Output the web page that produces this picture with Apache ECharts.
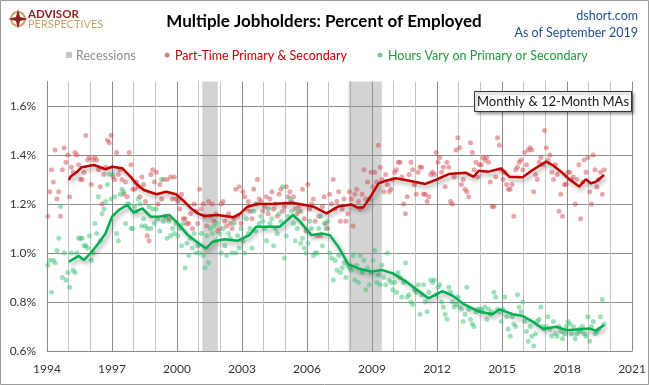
<!DOCTYPE html>
<html><head><meta charset="utf-8">
<script src="https://cdn.jsdelivr.net/npm/echarts@6.0.0/dist/echarts.min.js"></script>
<style>html,body{margin:0;padding:0;background:#fff}#c{width:649px;height:385px}</style>
</head><body><div id="c"></div>
<script>
// ---- data ----
const startYear = 1994;           // first monthly value = Jan 1994
const xRange = [1994, 2021];
const yRange = [0.6, 1.7];
const recessions = [[2001.17, 2001.88], [2007.92, 2009.45]];

const partTimeMonthly = [
1.15,1.25,1.34,1.29,1.42,1.22,1.25,1.15,1.34,1.43,1.37,1.40,
1.23,1.35,1.33,1.41,1.40,1.36,1.30,1.30,1.33,1.48,1.38,1.39,
1.28,1.38,1.39,1.38,1.34,1.27,1.20,1.32,1.35,1.46,1.45,1.48,
1.31,1.30,1.41,1.32,1.34,1.30,1.24,1.29,1.23,1.41,1.36,1.26,
1.26,1.29,1.27,1.23,1.31,1.28,1.21,1.07,1.05,1.32,1.34,1.29,
1.33,1.20,1.28,1.22,1.30,1.15,1.30,1.14,1.31,1.22,1.31,1.22,
1.21,1.18,1.24,1.14,1.14,1.12,1.12,1.16,1.10,1.20,1.17,1.12,
1.26,1.18,1.20,1.15,1.11,1.21,1.15,1.20,1.13,1.16,1.09,1.10,
1.20,1.21,1.13,1.11,1.16,1.12,1.10,1.14,1.26,1.15,1.27,1.12,
1.25,1.23,1.18,1.21,1.17,1.14,1.26,1.20,1.30,1.22,1.21,1.17,
1.19,1.23,1.16,1.22,1.25,1.18,1.20,1.15,1.24,1.26,1.17,1.19,
1.27,1.23,1.25,1.21,1.23,1.18,1.16,1.19,1.17,1.26,1.14,1.09,
1.28,1.18,1.20,1.22,1.13,1.07,1.15,1.07,1.19,1.23,1.12,1.10,
1.24,1.20,1.30,1.18,1.21,1.25,1.13,1.18,1.22,1.13,1.16,1.25,
1.22,1.11,1.24,1.26,1.21,1.18,1.24,1.34,1.22,1.29,1.22,1.33,
1.27,1.33,1.29,1.44,1.35,1.30,1.25,1.32,1.28,1.25,1.26,1.30,
1.33,1.34,1.37,1.37,1.31,1.20,1.16,1.23,1.32,1.37,1.34,1.28,
1.24,1.33,1.35,1.35,1.24,1.24,1.21,1.23,1.32,1.33,1.32,1.41,
1.37,1.39,1.33,1.35,1.27,1.37,1.35,1.21,1.20,1.31,1.42,1.47,
1.43,1.28,1.30,1.26,1.25,1.23,1.45,1.41,1.34,1.37,1.31,1.36,
1.36,1.39,1.38,1.39,1.37,1.29,1.19,1.19,1.31,1.47,1.44,1.34,
1.30,1.33,1.28,1.26,1.26,1.28,1.15,1.34,1.35,1.37,1.38,1.34,
1.41,1.36,1.42,1.43,1.42,1.25,1.32,1.30,1.37,1.39,1.36,1.50,
1.43,1.38,1.40,1.33,1.30,1.36,1.32,1.17,1.24,1.15,1.28,1.28,
1.33,1.33,1.30,1.31,1.20,1.30,1.36,1.14,1.29,1.38,1.33,1.39,
1.25,1.20,1.40,1.34,1.27,1.30,1.33,1.24,1.34
];

const hoursVaryMonthly = [
0.95,0.97,0.84,0.97,0.96,1.01,1.06,1.19,0.90,1.00,0.89,0.92,
0.86,1.00,0.93,0.92,1.00,1.06,1.06,1.06,1.03,1.03,1.02,1.07,
0.97,1.00,1.12,1.08,1.23,1.05,1.16,1.18,1.21,1.28,1.32,1.22,
1.32,1.23,1.08,1.05,1.24,1.26,1.25,1.12,1.20,1.20,1.10,1.10,
1.19,1.17,1.22,1.20,1.11,1.14,1.11,1.10,1.19,1.10,1.18,1.12,
1.18,1.14,1.09,1.30,1.13,1.15,1.06,1.13,1.07,1.10,1.08,1.12,
1.07,1.10,1.03,1.12,0.94,1.04,0.99,1.06,1.02,1.08,1.00,1.03,
1.00,1.08,0.99,0.94,1.07,0.96,1.10,1.08,1.11,1.05,1.12,1.08,
1.00,1.10,1.03,0.99,1.08,1.06,1.00,1.12,1.00,1.07,1.02,1.10,
1.05,1.00,1.14,1.08,1.10,1.02,1.17,1.09,1.20,1.12,1.15,1.13,
1.10,1.05,1.18,1.12,1.14,1.03,1.10,1.08,1.16,1.13,1.27,0.98,
1.07,1.15,1.22,1.17,1.12,1.05,1.10,1.17,1.04,1.06,1.02,1.00,
1.04,1.13,1.10,0.99,1.00,1.00,1.10,1.15,1.03,1.12,1.10,1.13,
1.00,0.98,0.89,0.97,0.93,0.99,0.92,0.94,0.96,0.90,0.95,0.94,
0.93,0.99,0.89,0.95,0.88,0.99,0.92,0.97,0.85,0.94,0.87,0.92,
0.97,1.01,0.88,0.91,0.87,0.95,0.90,0.87,1.00,0.89,0.88,0.85,
0.88,0.84,0.92,0.90,0.82,0.88,0.96,0.82,0.83,0.80,0.79,0.85,
0.84,0.87,0.75,0.83,0.87,0.80,0.76,0.84,0.89,0.88,0.89,0.83,
0.86,0.87,0.80,0.78,0.75,0.73,0.86,0.84,0.80,0.78,0.79,0.82,
0.78,0.77,0.72,0.75,0.86,0.77,0.73,0.71,0.70,0.76,0.77,0.77,
0.77,0.76,0.78,0.73,0.77,0.75,0.76,0.84,0.82,0.77,0.76,0.72,
0.77,0.82,0.74,0.69,0.66,0.74,0.71,0.70,0.83,0.78,0.76,0.80,
0.72,0.68,0.64,0.70,0.66,0.62,0.67,0.72,0.73,0.78,0.70,0.69,
0.70,0.74,0.69,0.66,0.72,0.67,0.66,0.70,0.68,0.65,0.67,0.70,
0.72,0.71,0.67,0.70,0.65,0.67,0.69,0.68,0.70,0.67,0.66,0.74,
0.64,0.70,0.72,0.67,0.68,0.69,0.74,0.81,0.71
];

// 12-month moving averages as [year, value]
const partTimeMA = [
[1995.01,1.298],[1995.09,1.312],[1995.4,1.332],[1995.6,1.35],[1996.17,1.359],[1996.7,1.342],
[1997.0,1.352],[1997.47,1.346],[1997.86,1.311],[1998.1,1.284],[1998.47,1.257],[1999.05,1.24],
[1999.5,1.25],[1999.95,1.24],[2000.35,1.209],[2000.65,1.182],[2000.96,1.162],[2001.26,1.151],
[2001.88,1.155],[2002.6,1.146],[2002.9,1.16],[2003.25,1.189],[2003.7,1.2],[2004.35,1.2],
[2005.3,1.205],[2005.9,1.196],[2006.3,1.189],[2006.9,1.162],[2007.45,1.19],[2008.05,1.198],
[2008.3,1.186],[2008.6,1.186],[2008.98,1.237],[2009.3,1.284],[2009.6,1.294],[2010.08,1.305],
[2010.54,1.298],[2011.46,1.282],[2011.93,1.298],[2012.54,1.322],[2013.31,1.328],[2013.69,1.311],
[2013.92,1.336],[2014.38,1.332],[2014.95,1.345],[2015.34,1.311],[2015.95,1.309],[2016.41,1.339],
[2017.03,1.373],[2017.33,1.359],[2017.72,1.332],[2018.1,1.301],[2018.56,1.271],[2018.87,1.301],
[2019.1,1.284],[2019.33,1.291],[2019.71,1.318]
];
const hoursVaryMA = [
[1995.01,0.965],[1995.47,0.988],[1995.7,0.971],[1996.0,0.999],[1996.32,1.033],[1996.7,1.08],
[1997.0,1.148],[1997.32,1.176],[1997.7,1.196],[1998.0,1.165],[1998.4,1.182],[1998.78,1.148],
[1999.16,1.148],[1999.65,1.155],[2000.04,1.121],[2000.5,1.073],[2000.96,1.042],[2001.34,1.019],
[2001.65,1.046],[2002.19,1.056],[2002.8,1.05],[2003.34,1.073],[2003.65,1.107],[2003.97,1.107],
[2004.74,1.107],[2005.35,1.155],[2005.66,1.13],[2006.2,1.073],[2006.67,1.08],[2007.05,1.073],
[2007.44,1.026],[2007.9,0.955],[2008.36,0.937],[2008.97,0.924],[2009.44,0.931],[2009.96,0.917],
[2010.58,0.883],[2011.04,0.852],[2011.6,0.815],[2012.25,0.844],[2012.73,0.825],[2013.25,0.79],
[2013.96,0.76],[2014.56,0.75],[2014.88,0.77],[2015.5,0.75],[2015.95,0.743],[2016.41,0.72],
[2016.9,0.69],[2017.49,0.699],[2017.97,0.685],[2018.6,0.689],[2019.02,0.692],[2019.33,0.683],
[2019.71,0.706]
];

// ---- chart ----
const toPoints = arr => arr.map((v, i) => [startYear + (i + 0.5) / 12, v]);
const FONT = 'Lato, "Open Sans", sans-serif';
const chart = echarts.init(document.getElementById('c'), null, {renderer: 'canvas'});

const lineShadow = {shadowColor: 'rgba(0,0,0,0.35)', shadowBlur: 4, shadowOffsetX: 2, shadowOffsetY: 3};

chart.setOption({
  animation: false,
  backgroundColor: '#fff',
  textStyle: {fontFamily: FONT},
  grid: {left: 47, right: 16, top: 81.5, bottom: 34, containLabel: false},
  xAxis: {
    type: 'value', min: xRange[0], max: xRange[1], interval: 3,
    axisLine: {show: true, lineStyle: {color: '#888'}},
    axisTick: {show: false},
    axisLabel: {color: '#333', fontSize: 12, margin: 12, fontFamily: FONT, formatter: v => String(Math.round(v))},
    splitLine: {show: true, lineStyle: {color: '#8c8c8c', width: 1}},
    minorTick: {show: false, splitNumber: 3},
    minorSplitLine: {show: true, lineStyle: {color: '#c4c4c4', width: 1}}
  },
  yAxis: {
    type: 'value', min: yRange[0], max: yRange[1], interval: 0.2,
    axisLine: {show: true, lineStyle: {color: '#888'}},
    axisTick: {show: false},
    axisLabel: {color: '#333', fontSize: 12, margin: 11, fontFamily: FONT,
      showMaxLabel: false,
      formatter: v => (Math.abs(v - 1.7) < 1e-6 ? '' : v.toFixed(1) + '%')},
    splitLine: {show: true, showMaxLine: false, lineStyle: {color: '#8c8c8c', width: 1}}
  },
  series: [
    {
      name: 'Part-Time Primary & Secondary', type: 'scatter', symbolSize: 5,
      data: toPoints(partTimeMonthly),
      itemStyle: {color: 'rgba(210,70,75,0.6)'},
      markArea: {silent: true, itemStyle: {color: 'rgba(150,150,150,0.42)'},
        data: recessions.map(r => [{xAxis: r[0]}, {xAxis: r[1]}])},
      z: 2
    },
    {
      name: 'Hours Vary on Primary or Secondary', type: 'scatter', symbolSize: 5,
      data: toPoints(hoursVaryMonthly),
      itemStyle: {color: 'rgba(50,190,110,0.6)'}, z: 2
    },
    {
      name: 'PT MA', type: 'line', data: partTimeMA, showSymbol: false, symbol: 'none',
      lineStyle: Object.assign({color: '#C00000', width: 2.5}, lineShadow), z: 3
    },
    {
      name: 'HV MA', type: 'line', data: hoursVaryMA, showSymbol: false, symbol: 'none',
      lineStyle: Object.assign({color: '#00B050', width: 2.5}, lineShadow), z: 3
    }
  ],
  graphic: [
    {type: 'rect', shape: {x: 0.5, y: 0.5, width: 648, height: 384}, style: {fill: 'none', stroke: '#9a9a9a', lineWidth: 1}, z: 100},
    // logo
    {type: 'circle', shape: {cx: 18, cy: 19, r: 7}, style: {fill: 'none', stroke: '#C9A36A', lineWidth: 2}},
    {type: 'polygon', shape: {points: [[18,9],[20,17],[28,19],[20,21],[18,29],[16,21],[8,19],[16,17]]}, style: {fill: '#8B2020'}},
    {type: 'text', style: {x: 28, y: 14, text: 'ADVISOR', font: 'bold 11.5px ' + FONT, fill: '#8B2323', textVerticalAlign: 'middle', verticalAlign: 'middle'}},
    {type: 'text', style: {x: 28, y: 24, text: 'PERSPECTIVES', font: '11px ' + FONT, fill: '#C9A36A', textVerticalAlign: 'middle', verticalAlign: 'middle'}},
    // title
    {type: 'text', style: {x: 324, y: 22, text: 'Multiple Jobholders: Percent of Employed', font: 'bold 17px ' + FONT, fill: '#000', textAlign: 'center', align: 'center', textVerticalAlign: 'middle', verticalAlign: 'middle'}},
    {type: 'text', style: {x: 638, y: 16, text: 'dshort.com', font: '12.5px ' + FONT, fill: '#1F4E8C', textAlign: 'right', align: 'right', textVerticalAlign: 'middle', verticalAlign: 'middle'}},
    {type: 'text', style: {x: 638, y: 33, text: 'As of September 2019', font: '12.5px ' + FONT, fill: '#1F4E8C', textAlign: 'right', align: 'right', textVerticalAlign: 'middle', verticalAlign: 'middle'}},
    // legend
    {type: 'rect', shape: {x: 66, y: 52, width: 6, height: 6}, style: {fill: '#C8C8C8'}},
    {type: 'text', style: {x: 76, y: 55.5, text: 'Recessions', font: '12.5px ' + FONT, fill: '#8c8c8c', textVerticalAlign: 'middle', verticalAlign: 'middle'}},
    {type: 'circle', shape: {cx: 167, cy: 55, r: 2.5}, style: {fill: '#E07878'}},
    {type: 'text', style: {x: 175, y: 55.5, text: 'Part-Time Primary & Secondary', font: '12.5px ' + FONT, fill: '#C00000', textVerticalAlign: 'middle', verticalAlign: 'middle'}},
    {type: 'circle', shape: {cx: 380, cy: 55, r: 2.5}, style: {fill: '#70D098'}},
    {type: 'text', style: {x: 388, y: 55.5, text: 'Hours Vary on Primary or Secondary', font: '12.5px ' + FONT, fill: '#1E9A3C', textVerticalAlign: 'middle', verticalAlign: 'middle'}},
    // note box
    {type: 'rect', shape: {x: 474.5, y: 91.5, width: 157, height: 20}, style: {fill: '#fff', stroke: '#333', lineWidth: 1, shadowColor: 'rgba(0,0,0,0.4)', shadowBlur: 3, shadowOffsetX: 2, shadowOffsetY: 2}, z: 50},
    {type: 'text', style: {x: 553, y: 102, text: 'Monthly & 12-Month MAs', font: '13px ' + FONT, fill: '#1a1a1a', textAlign: 'center', align: 'center', textVerticalAlign: 'middle', verticalAlign: 'middle'}, z: 51}
  ]
});
</script>
</body></html>
